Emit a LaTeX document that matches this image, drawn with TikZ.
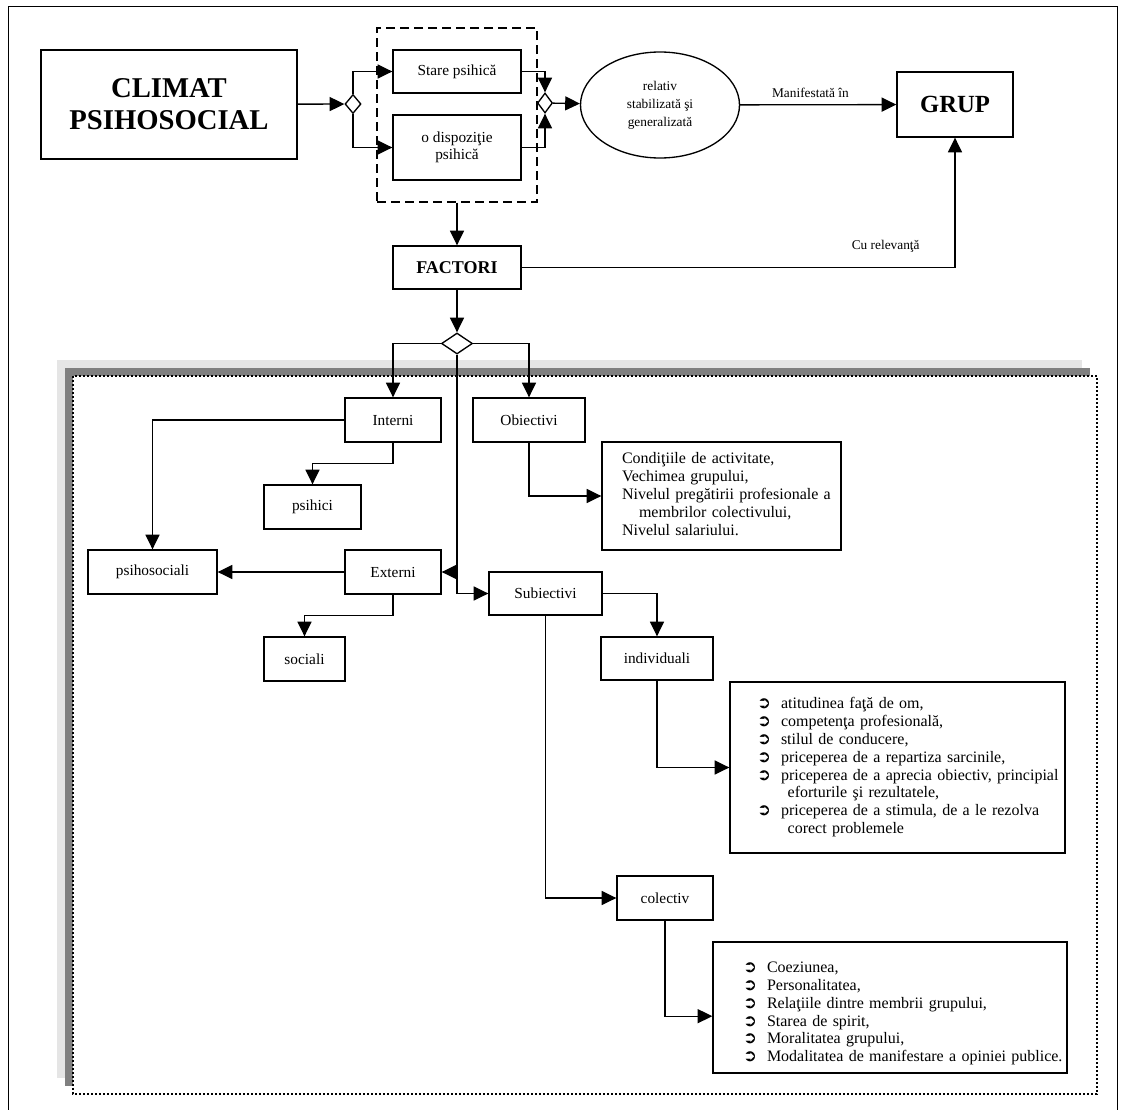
\documentclass[tikz,border=0pt]{standalone}
\usepackage{fontspec}
\setmainfont{Liberation Serif}
\newfontfamily\symfont{DejaVu Sans}
\usetikzlibrary{arrows.meta,shapes.geometric}

\tikzset{
  wh/.style 2 args={minimum width=#1*0.75pt, minimum height=#2*0.75pt},
  box/.style={draw, line width=1pt, fill=white, inner sep=2pt, align=center,
    font=\fontsize{11.5}{12.75}\selectfont},
  gate/.style={diamond, draw, line width=1pt, fill=white, inner sep=0pt},
  listbox/.style={draw, line width=1pt, fill=white, align=left,
    font=\fontsize{12}{13.4}\selectfont},
  link/.style={line width=1pt},
  arr/.style={link, -{Triangle[length=11pt,width=10.5pt]}},
  lbl/.style={font=\fontsize{10}{13.5}\selectfont, inner sep=1pt}
}
\newcommand\bul{\makebox[18pt][l]{\symfont\bfseries\fontsize{12.5}{12.5}\selectfont ➲}}

\begin{document}
\begin{tikzpicture}[x=0.75pt, y=-0.75pt]
  \useasboundingbox (0,0) rectangle (1121,1110);
  \draw[line width=0.75pt] (8,1110) -- (8,6) -- (1117,6) -- (1117,1110);

  % panel of factors
  \fill[black!10] (57,360) rectangle (1082,1078);
  \fill[black!50] (65,368) rectangle (1090,1086);
  \draw[fill=white, line width=1.5pt, dash pattern=on 1.5pt off 1.5pt] (73,376) rectangle (1097,1094);

  \node[draw, dash pattern=on 7pt off 3.5pt, line width=1.1pt, wh={160}{174}] (grp) at (457,115) {};

  \node[box, wh={256}{109}, font=\bfseries\fontsize{21.5}{24}\selectfont] (climat) at (169,104.5) {CLIMAT\\PSIHOSOCIAL};
  \node[gate, wh={16}{19}] (dA) at (353,104) {};
  \node[box, wh={128}{43}] (stare) at (457,71.5) {Stare psihică};
  \node[box, wh={128}{65}] (dispoz) at (457,147.5) {o dispoziţie\\psihică};
  \node[gate, wh={15}{20}] (dB) at (545,103) {};
  \node[ellipse, draw, line width=1pt, inner sep=0pt, wh={159}{106}, align=center,
    font=\fontsize{10}{13.5}\selectfont] (stab) at (660,105) {relativ\\stabilizată şi\\generalizată};
  \node[box, wh={116}{65}, font=\bfseries\fontsize{18.5}{20}\selectfont] (grup) at (955,104.5) {GRUP};
  \node[box, wh={128}{43}, font=\bfseries\fontsize{13.5}{15}\selectfont] (factori) at (457,267.5) {FACTORI};
  \node[gate, wh={31}{21}] (dC) at (457,343.5) {};

  \node[box, wh={96}{44}] (interni) at (393,420) {Interni};
  \node[box, wh={112}{44}] (obiectivi) at (529,420) {Obiectivi};
  \node[box, wh={97}{44}] (psihici) at (312.5,507) {psihici};
  \node[box, wh={129}{44}] (psihosoc) at (152.5,572) {psihosociali};
  \node[box, wh={96}{44}] (externi) at (393,572) {Externi};
  \node[box, wh={81}{44}] (sociali) at (304.5,659) {sociali};
  \node[box, wh={113}{43}] (subiectivi) at (545.5,593.5) {Subiectivi};
  \node[box, wh={112}{43}] (individ) at (657,658.5) {individuali};
  \node[box, wh={96}{44}] (colectiv) at (665,898) {colectiv};

  \node[listbox, wh={239}{108}, inner xsep=15pt, text width=149.25pt] (oblist) at (721.5,496) {%
    \begin{tabular}{@{}l@{}}
      Condiţiile de activitate,\\
      Vechimea grupului,\\
      Nivelul pregătirii profesionale a\\
      \hspace*{12.75pt}membrilor colectivului,\\
      Nivelul salariului.
    \end{tabular}};
  \node[listbox, wh={335}{171}, inner xsep=20.25pt, text width=210.75pt] (indlist) at (897.5,767.5) {%
    \begin{tabular}{@{}l@{}}
      \bul atitudinea faţă de om,\\
      \bul competenţa profesională,\\
      \bul stilul de conducere,\\
      \bul priceperea de a repartiza sarcinile,\\
      \bul priceperea de a aprecia obiectiv, principial\\
      \hspace*{23pt}eforturile şi rezultatele,\\
      \bul priceperea de a stimula, de a le rezolva\\
      \hspace*{23pt}corect problemele
    \end{tabular}};
  \node[listbox, wh={354}{131}, inner xsep=22.5pt, text width=220.5pt] (collist) at (890,1007.5) {%
    \vspace*{8pt}
    \begin{tabular}{@{}l@{}}
      \bul Coeziunea,\\
      \bul Personalitatea,\\
      \bul Relaţiile dintre membrii grupului,\\
      \bul Starea de spirit,\\
      \bul Moralitatea grupului,\\
      \bul Modalitatea de manifestare a opiniei publice.
    \end{tabular}};

  \draw[arr] (climat) -- (dA);
  \draw[arr] (dA.north) |- (stare.west);
  \draw[arr] (dA.south) |- (dispoz.west);
  \draw[arr] (stare.east) -| (dB.north);
  \draw[arr] (dispoz.east) -| (dB.south);
  \draw[arr] (dB) -- (stab);
  \draw[arr] (stab) -- node[lbl, above=4pt, pos=0.45] {Manifestată în} (grup);
  \draw[arr] (grp.south) -- (factori);
  \draw[arr] (factori.east) -| node[lbl, above=10pt, pos=0.42] {Cu relevanţă} (grup.south);
  \draw[arr] (factori) -- (dC);
  \draw[arr] (dC.west) -| (interni.north);
  \draw[arr] (dC.east) -| (obiectivi.north);
  \draw[arr] (dC.south) |- (externi.east);
  \draw[arr] (dC.south) |- (subiectivi.west);
  \draw[arr] (interni.west) -| (psihosoc.north);
  \draw[arr] (interni.south) -- ++(0,21) -| (psihici.north);
  \draw[arr] (externi) -- (psihosoc);
  \draw[arr] (externi.south) -- ++(0,21) -| (sociali.north);
  \draw[arr] (obiectivi.south) |- (oblist.west);
  \draw[arr] (subiectivi.east) -| (individ.north);
  \draw[arr] (individ.south) |- (indlist.west);
  \draw[arr] (subiectivi.south) |- (colectiv.west);
  \draw[arr] (colectiv.south) |- ([yshift=-6.5pt]collist.west);
\end{tikzpicture}
\end{document}
